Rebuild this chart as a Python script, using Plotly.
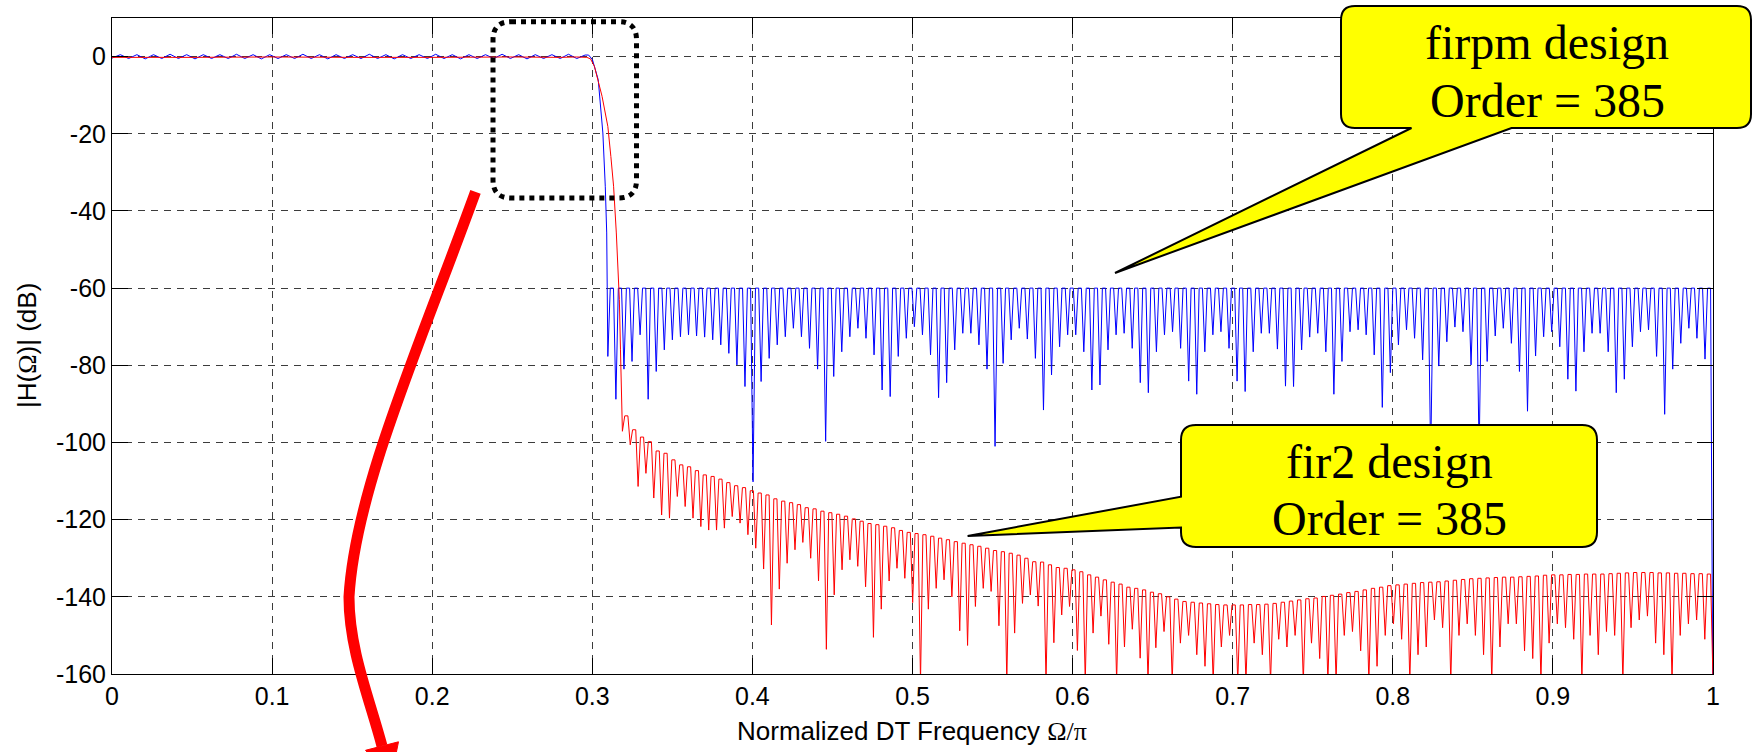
import numpy as np
import plotly.graph_objects as go

# ---------------- data ----------------
X_TICKS = [0, 0.1, 0.2, 0.3, 0.4, 0.5, 0.6, 0.7, 0.8, 0.9, 1.0]
X_TICK_TEXT = ["0", "0.1", "0.2", "0.3", "0.4", "0.5", "0.6", "0.7", "0.8", "0.9", "1"]
Y_TICKS = [0, -20, -40, -60, -80, -100, -120, -140, -160]
Y_TICK_TEXT = ["0", "-20", "-40", "-60", "-80", "-100", "-120", "-140", "-160"]

# firpm design (blue): passband ripple, transition band, equiripple stopband
BLUE_PASS_START, BLUE_PASS_END = 0.0, 0.2955
BLUE_PASS_DB = [
    -0.4, 0.5, -0.5, 0.5, -0.6, 0.5, -0.5, 0.6, -0.5, 0.5,
    -0.6, 0.5, -0.5, 0.5, -0.5, 0.6, -0.5, 0.5, -0.6, 0.5,
    -0.5, 0.5, -0.5, 0.6, -0.5, 0.5, -0.6, 0.5, -0.5, 0.5,
    -0.5, 0.6, -0.5, 0.5, -0.6, 0.5, -0.5, 0.5, -0.5, 0.6,
    -0.5, 0.5, -0.6, 0.5, -0.5, 0.5, -0.5, 0.6, -0.5, 0.5,
    -0.6, 0.5, -0.5, 0.5, -0.5, 0.6, -0.5, 0.4]
BLUE_TRANS_X = [0.2977, 0.3001, 0.3037, 0.3066, 0.3081, 0.3090]
BLUE_TRANS_DB = [0.4, -0.8, -6.0, -19.8, -33.6, -45.7]
BLUE_STOP_START, BLUE_STOP_END = 0.3097, 0.9950
BLUE_STOP_PEAK_DB = -60.0
BLUE_STOP_NULLS_DB = [
    -77.7, -88.8, -81.0, -79.0, -72.1, -88.8, -81.6, -76.0, -73.4, -72.6,
    -72.1, -72.4, -72.7, -73.4, -74.7, -76.9, -79.9, -85.5, -110.2, -84.2,
    -78.2, -74.7, -72.6, -70.4, -72.6, -75.6, -81.0, -99.7, -82.9, -76.5,
    -72.6, -70.4, -73.0, -77.3, -86.4, -88.1, -77.7, -73.0, -70.0, -72.1,
    -77.3, -88.4, -84.5, -76.0, -71.7, -71.7, -74.7, -81.0, -101.0, -79.5,
    -73.4, -70.4, -73.2, -78.2, -91.6, -82.5, -75.2, -72.1, -72.1, -76.5,
    -86.4, -85.1, -76.0, -72.1, -71.7, -75.6, -84.5, -87.1, -76.5,
    -72.1, -71.3, -75.6, -84.1, -87.5, -76.5, -72.1, -71.3, -75.6, -84.1,
    -86.8, -76.5, -71.7, -71.7, -75.8, -85.4, -85.5, -76.0, -72.7, -71.7,
    -76.5, -87.5, -79.0, -71.3, -70.8, -72.1, -77.3, -90.9, -81.9, -74.7,
    -70.8, -73.0, -78.6, -104.0, -80.2, -73.9, -70.1, -71.3, -79.9, -103.0,
    -79.0, -72.4, -70.4, -74.3, -81.6, -91.9, -77.6, -72.6, -71.3, -75.2,
    -83.6, -86.7, -76.5, -71.7, -71.7, -76.5, -87.1, -83.6, -75.2, -71.3,
    -70.8, -77.7, -92.7, -81.0, -74.3, -70.4, -73.0, -78.4]
BLUE_TAIL_X = [0.9966, 0.9985, 1.0]
BLUE_TAIL_DB = [-60.0, -60.0, -175.0]

# fir2 design (red): passband, transition band, decaying stopband ripple
RED_PASS_X = [0.0, 0.05, 0.1, 0.15, 0.2, 0.25, 0.28, 0.29]
RED_PASS_DB = [-0.2, -0.2, -0.1, -0.2, -0.2, -0.1, -0.2, -0.1]
RED_TRANS_X = [0.2966, 0.2989, 0.3013, 0.3037, 0.3061, 0.3097, 0.3116, 0.3133, 0.3150, 0.3169, 0.3176]
RED_TRANS_DB = [-0.2, -0.6, -2.5, -6.4, -10.3, -18.1, -25.9, -33.6, -45.7, -63.0, -76.0]
RED_NULLS_A_RANGE = (0.3188, 0.6520)
RED_NULLS_A_DB = [
    -97.1, -100.6, -111.4, -108.0, -114.4, -118.8, -119.6, -114.0, -116.6, -119.6,
    -121.8, -122.7, -122.7, -122.2, -119.2, -120.9, -123.9, -127.4, -132.8, -147.3,
    -138.0, -131.3, -127.8, -125.9, -130.0, -135.9, -153.6, -139.5, -133.0, -130.4,
    -132.1, -137.4, -150.5, -143.2, -135.9, -132.6, -135.2, -141.5, -162.0, -143.2,
    -137.8, -135.6, -140.0, -148.8, -152.6, -142.5, -137.8, -138.6, -147.5, -162.0,
    -149.4, -141.7, -139.5, -142.4, -162.0, -151.9, -144.7, -142.5, -153.9, -162.0,
    -149.4, -145.0, -152.3, -162.0, -153.0, -148.4, -155.9, -162.0, -153.2]
RED_NULLS_B_RANGE = (0.6571, 1.0)
RED_NULLS_B_DB = [
    -149, -162, -152, -150, -155, -158, -162, -153, -150, -162,
    -162, -152, -155, -162, -151, -153, -150, -162, -152, -156,
    -162, -162, -150, -149, -154, -162, -158, -150, -147, -151,
    -162, -155, -153, -146, -148, -162, -150, -147, -150, -155,
    -162, -153, -147, -147, -154, -156, -162, -152, -147, -148,
    -151, -162, -150, -155, -149, -150, -162, -148, -146, -145,
    -152, -155, -162, -150, -147, -146, -151, -162]
RED_PEAKS_DB = [
    -93.1, -96.7, -98.6, -99.8, -102.2, -102.8, -104.5, -105.8, -106.3, -107.3,
    -108.4, -108.8, -109.5, -110.4, -111.2, -111.7, -112.5, -113.1, -113.6, -114.6,
    -115.2, -115.6, -116.1, -116.9, -117.2, -117.8, -118.2, -118.6, -119.1, -119.8,
    -120.4, -121.0, -121.3, -121.7, -122.1, -122.8, -123.3, -123.6, -123.9, -124.3,
    -124.8, -125.2, -125.7, -126.1, -126.5, -126.9, -127.4, -128.0, -128.3, -128.7,
    -129.2, -130.0, -130.9, -131.0, -131.7, -132.4, -132.6, -133.0, -133.5, -134.3,
    -134.9, -135.6, -136.2, -136.7, -137.5, -137.8, -138.2, -138.8, -139.2,
    -140.0, -140.6, -141.2, -141.4, -141.6, -141.8, -142.0, -142.1, -142.1,
    -142.1, -142.0, -142.0, -141.9, -141.7, -141.4, -141.1, -140.8, -140.5, -140.3,
    -139.9, -139.6, -139.3, -138.9, -138.6, -138.2, -137.8, -137.5, -137.1, -136.9,
    -136.7, -136.5, -136.3, -136.2, -136.1, -135.9, -135.7, -135.5, -135.3, -135.2,
    -135.1, -135.0, -134.9, -134.9, -134.8, -134.7, -134.6, -134.4, -134.3, -134.3,
    -134.2, -134.2, -134.1, -134.1, -134.1, -134.0, -133.9, -133.8, -133.7, -133.7,
    -133.7, -133.8, -133.8, -133.9, -133.9, -134.0, -134.0, -134.1]

CALLOUT_FIRPM = ["firpm design", "Order = 385"]
CALLOUT_FIR2 = ["fir2 design", "Order = 385"]
X_TITLE = "Normalized DT Frequency <span style='font-family:Liberation Serif, Times New Roman, serif'>Ω/π</span>"
Y_TITLE = "|H(<span style='font-family:Liberation Serif, Times New Roman, serif'>Ω</span>)| (dB)"


# ---------------- build curves ----------------
def ripple(null_x, nulls, peaks):
    xs, ys = [], []
    for i, v in enumerate(nulls):
        xs.append(null_x[i]); ys.append(v)
        if i < len(nulls) - 1:
            d = null_x[i + 1] - null_x[i]
            xs += [null_x[i] + 0.3 * d, null_x[i] + 0.7 * d]
            ys += [peaks[i], peaks[i]]
    return xs, ys


bx = list(np.linspace(BLUE_PASS_START, BLUE_PASS_END, len(BLUE_PASS_DB))) + BLUE_TRANS_X
by = list(BLUE_PASS_DB) + BLUE_TRANS_DB
bnx = np.linspace(BLUE_STOP_START, BLUE_STOP_END, len(BLUE_STOP_NULLS_DB))
sx, sy = ripple(bnx, BLUE_STOP_NULLS_DB, [BLUE_STOP_PEAK_DB] * len(BLUE_STOP_NULLS_DB))
bx += sx + BLUE_TAIL_X
by += sy + BLUE_TAIL_DB

rnx = np.concatenate([np.linspace(*RED_NULLS_A_RANGE, len(RED_NULLS_A_DB)),
                      np.linspace(*RED_NULLS_B_RANGE, len(RED_NULLS_B_DB))])
rsx, rsy = ripple(rnx, RED_NULLS_A_DB + RED_NULLS_B_DB, RED_PEAKS_DB)
rx = RED_PASS_X + RED_TRANS_X + rsx
ry = RED_PASS_DB + RED_TRANS_DB + rsy

fig = go.Figure()
fig.add_trace(go.Scatter(x=bx, y=by, mode="lines",
                         line=dict(color="#0000FF", width=1, simplify=False), hoverinfo="skip"))
fig.add_trace(go.Scatter(x=rx, y=ry, mode="lines",
                         line=dict(color="#FF0000", width=1, simplify=False), hoverinfo="skip"))

# ---------------- layout ----------------
W, H = 1753, 752
ML, MR, MT, MB = 112, 40, 18, 78
PW, PH = W - ML - MR, H - MT - MB
SANS = "Liberation Sans, Arial, sans-serif"
SERIF = "Liberation Serif, Times New Roman, serif"


def px(xp, yp):
    """pixel (from top-left of figure) -> paper coords"""
    return (xp - ML) / PW, (H - MB - yp) / PH


def path(cmds):
    out = []
    for c in cmds:
        if isinstance(c, str):
            out.append(c)
        else:
            a, b = px(*c)
            out.append(f"{a:.5f},{b:.5f}")
    return " ".join(out)


def rounded_box(L, R, T, B, r, wedge_bottom=None, wedge_left=None):
    c = ["M", (L + r, T), "L", (R - r, T), "Q", (R, T), (R, T + r),
         "L", (R, B - r), "Q", (R, B), (R - r, B)]
    if wedge_bottom:
        xa, xb, tip = wedge_bottom
        c += ["L", (xb, B), "L", tip, "L", (xa, B)]
    c += ["L", (L + r, B), "Q", (L, B), (L, B - r)]
    if wedge_left:
        ya, yb, tip = wedge_left
        c += ["L", (L, yb), "L", tip, "L", (L, ya)]
    c += ["L", (L, T + r), "Q", (L, T), (L + r, T), "Z"]
    return path(c)


shapes = []
# dotted rounded box around the transition band
shapes.append(dict(type="path", xref="paper", yref="paper",
                   path=rounded_box(493, 636.5, 21.7, 198, 18),
                   line=dict(color="black", width=5, dash="5px,5px"),
                   fillcolor="rgba(0,0,0,0)", layer="above"))
# thick red curved arrow
shapes.append(dict(type="path", xref="paper", yref="paper",
                   path=path(["M", (475.5, 192), "C", (420, 345), (355, 490), (349, 597),
                              "C", (349, 650), (370, 700), (382, 746)]),
                   line=dict(color="#FF0000", width=11),
                   fillcolor="rgba(0,0,0,0)", layer="above"))
shapes.append(dict(type="path", xref="paper", yref="paper",
                   path=path(["M", (365.5, 750.3), "L", (391, 779), "L", (398.5, 741.8), "Z"]),
                   line=dict(color="#FF0000", width=1), fillcolor="#FF0000", layer="above"))
# callouts
shapes.append(dict(type="path", xref="paper", yref="paper",
                   path=rounded_box(1341, 1751, 6, 128, 14,
                                    wedge_bottom=(1411.5, 1511.5, (1115, 273))),
                   line=dict(color="black", width=2), fillcolor="#FFFF00", layer="above"))
shapes.append(dict(type="path", xref="paper", yref="paper",
                   path=rounded_box(1181, 1597, 425, 547, 15,
                                    wedge_left=(496.7, 527.5, (967.6, 536))),
                   line=dict(color="black", width=2), fillcolor="#FFFF00", layer="above"))

annotations = []
for text, (cx, cy) in zip(CALLOUT_FIRPM, [(1547, 43), (1547, 100)]):
    ax_, ay_ = px(cx, cy)
    annotations.append(dict(text=text, x=ax_, y=ay_, xref="paper", yref="paper",
                            xanchor="center", yanchor="middle", showarrow=False,
                            font=dict(family=SERIF, size=48, color="black")))
for text, (cx, cy) in zip(CALLOUT_FIR2, [(1389, 461), (1389, 518)]):
    ax_, ay_ = px(cx, cy)
    annotations.append(dict(text=text, x=ax_, y=ay_, xref="paper", yref="paper",
                            xanchor="center", yanchor="middle", showarrow=False,
                            font=dict(family=SERIF, size=48, color="black")))
tx, ty = px(912, 731)
annotations.append(dict(text=X_TITLE, x=tx, y=ty, xref="paper", yref="paper",
                        xanchor="center", yanchor="middle", showarrow=False,
                        font=dict(family=SANS, size=26, color="black")))
tx, ty = px(27, 346)
annotations.append(dict(text=Y_TITLE, x=tx, y=ty, xref="paper", yref="paper",
                        xanchor="center", yanchor="middle", showarrow=False, textangle=-90,
                        font=dict(family=SANS, size=26, color="black")))

axis_common = dict(ticks="inside", ticklen=16, tickcolor="black", tickwidth=1,
                   showline=True, linecolor="black", linewidth=1, mirror="ticks",
                   showgrid=True, gridcolor="#3c3c3c", gridwidth=1, griddash="7px,6px",
                   zeroline=False, tickfont=dict(family=SANS, size=25, color="black"))

fig.update_layout(
    width=W, height=H,
    margin=dict(l=ML, r=MR, t=MT, b=MB, pad=0),
    plot_bgcolor="white", paper_bgcolor="white",
    showlegend=False,
    xaxis=dict(range=[0, 1], tickvals=X_TICKS, ticktext=X_TICK_TEXT, **axis_common),
    yaxis=dict(range=[-160, 10], tickvals=Y_TICKS, ticktext=Y_TICK_TEXT, **axis_common),
    shapes=shapes, annotations=annotations,
)

fig.write_html("out.html")
